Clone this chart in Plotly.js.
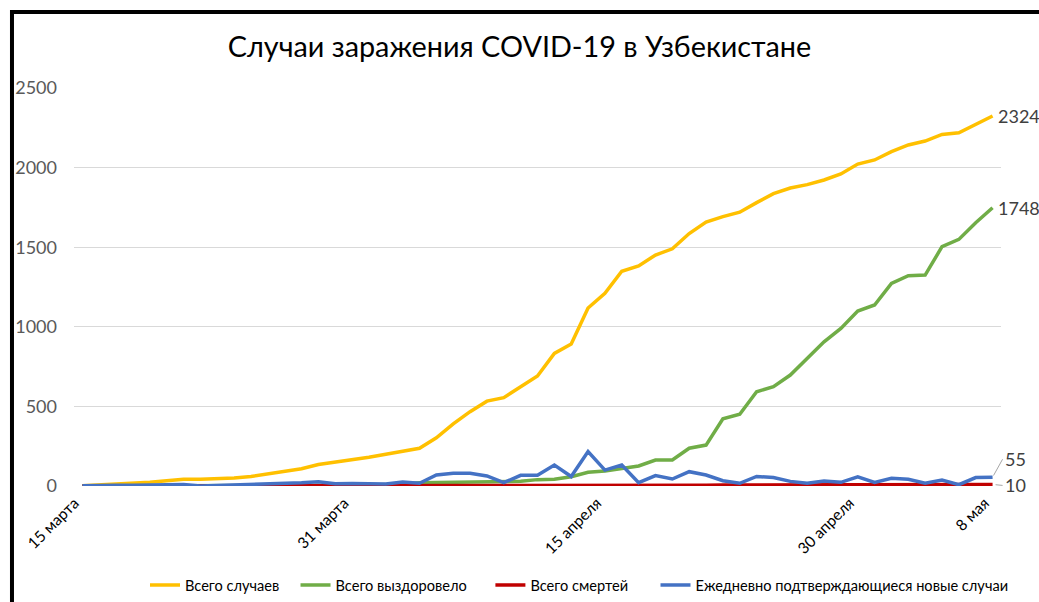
<!DOCTYPE html>
<html>
<head>
<meta charset="utf-8">
<script src="https://cdn.plot.ly/plotly-3.0.1.min.js"></script>
<style>html,body{margin:0;padding:0;background:#fff;}#chart{width:1039px;height:602px;}</style>
</head>
<body>
<div id="chart"></div>
<script>
const dates = [
  "15 марта","16 марта","17 марта","18 марта","19 марта","20 марта","21 марта","22 марта","23 марта","24 марта",
  "25 марта","26 марта","27 марта","28 марта","29 марта","30 марта","31 марта",
  "1 апреля","2 апреля","3 апреля","4 апреля","5 апреля","6 апреля","7 апреля","8 апреля","9 апреля","10 апреля",
  "11 апреля","12 апреля","13 апреля","14 апреля","15 апреля","16 апреля","17 апреля","18 апреля","19 апреля","20 апреля",
  "21 апреля","22 апреля","23 апреля","24 апреля","25 апреля","26 апреля","27 апреля","28 апреля","29 апреля","30 апреля",
  "1 мая","2 мая","3 мая","4 мая","5 мая","6 мая","7 мая","8 мая"
];
const totalCases = [1,6,10,15,23,33,43,43,46,50,60,75,88,108,135,149,165,181,200,221,237,303,390,467,533,555,624,691,833,892,1118,1210,1349,1382,1451,1490,1586,1658,1692,1720,1780,1836,1872,1893,1922,1960,2022,2048,2100,2142,2167,2208,2219,2272,2324];
const recovered = [0,0,0,0,0,0,0,0,0,0,0,0,0,0,0,2,5,7,7,11,20,22,25,25,25,26,30,40,42,58,86,94,111,126,163,163,237,257,422,451,592,624,697,802,906,990,1099,1137,1273,1321,1325,1503,1549,1654,1748];
const deaths = [0,0,0,0,0,0,0,0,0,0,0,0,0,1,2,2,2,2,2,2,2,2,2,2,3,3,3,3,4,4,4,4,4,4,5,5,5,5,6,7,7,8,8,8,8,8,8,8,9,9,9,10,10,10,10];
const dailyNew = [1,5,4,5,8,10,10,0,3,4,10,15,13,20,27,14,16,16,12,25,17,69,80,80,63,21,67,67,132,60,216,100,132,21,65,44,90,69,33,17,60,53,29,17,31,23,58,23,48,42,17,38,8,53,55];
const tickDates = ["15 марта","31 марта","15 апреля","30 апреля","8 мая"];
const seriesNames = ["Всего случаев","Всего выздоровело","Всего смертей","Ежедневно подтверждающиеся новые случаи"];
const colors = ["#FFC000","#70AD47","#C00000","#4472C4"];

const FONT = "Lato, 'Noto Sans', 'DejaVu Sans', sans-serif";
const NB = "\u00A0";
const legendPad = [3, 5, 6, 0];
const allSeries = [totalCases, recovered, deaths, dailyNew];
const traces = allSeries.map((ys, i) => ({
  type: "scatter", mode: "lines", x: dates, y: ys, name: seriesNames[i] + NB.repeat(legendPad[i]),
  line: {color: colors[i], width: 3.5, shape: "linear"}, hoverinfo: "x+y"
}));

const last = dates[dates.length - 1];
const n = dates.length - 1;
const labelFont = {family: FONT, size: 18, color: "#404040"};
const annotations = [
  {x: last, y: totalCases[n], text: String(totalCases[n]), showarrow: false, xanchor: "left", yanchor: "middle", xshift: 3, font: labelFont},
  {x: last, y: recovered[n], text: String(recovered[n]), showarrow: false, xanchor: "left", yanchor: "middle", xshift: 3, font: labelFont},
  {x: last, y: dailyNew[n], text: String(dailyNew[n]), showarrow: true, arrowhead: 0, arrowwidth: 1, arrowcolor: "#a6a6a6",
   ax: 10, ay: -18, xanchor: "left", yanchor: "middle", standoff: 2, font: labelFont},
  {x: last, y: deaths[n], text: String(deaths[n]), showarrow: true, arrowhead: 0, arrowwidth: 1, arrowcolor: "#a6a6a6",
   ax: 10, ay: 1, xanchor: "left", yanchor: "middle", standoff: 3, font: labelFont}
];

const layout = {
  width: 1039, height: 602,
  paper_bgcolor: "#ffffff", plot_bgcolor: "#ffffff",
  margin: {l: 74, r: 38, t: 88, b: 116, pad: 0, autoexpand: false},
  font: {family: FONT, color: "#404040"},
  title: {text: "Случаи заражения COVID-19 в Узбекистане", xref: "container", x: 0.5, xanchor: "center",
          yref: "container", y: 0.922, yanchor: "middle", font: {family: FONT, size: 28.8, color: "#000000"}},
  xaxis: {type: "category", range: [-0.5, dates.length - 0.5], tickmode: "array", tickvals: tickDates, ticktext: tickDates,
          tickangle: -45, tickfont: {family: FONT, size: 15.5, color: "#000000"}, showgrid: false, zeroline: false,
          showline: false, ticks: "", ticklabelshift: -8, ticklabelstandoff: 4, fixedrange: true, automargin: false},
  yaxis: {range: [0, 2500], dtick: 500, tick0: 0, gridcolor: "#d9d9d9", gridwidth: 1, zeroline: false, showline: false,
          ticks: "", ticklabelstandoff: 16, tickfont: {family: FONT, size: 18, color: "#595959"}, fixedrange: true, automargin: false},
  showlegend: true,
  legend: {orientation: "h", xref: "container", x: 145 / 1039, xanchor: "left", yref: "container", y: 1 - 585 / 602, yanchor: "middle",
           font: {family: FONT, size: 14.6, color: "#000000"}, bgcolor: "rgba(0,0,0,0)"},
  annotations: annotations,
  shapes: [
    {type: "rect", xref: "paper", yref: "paper", x0: -0.0669, x1: 1.2, y0: -0.6, y1: 1.191,
     line: {color: "#000000", width: 4}, fillcolor: "rgba(0,0,0,0)"}
  ]
};

Plotly.newPlot("chart", traces, layout, {displayModeBar: false, staticPlot: true});
</script>
</body>
</html>
